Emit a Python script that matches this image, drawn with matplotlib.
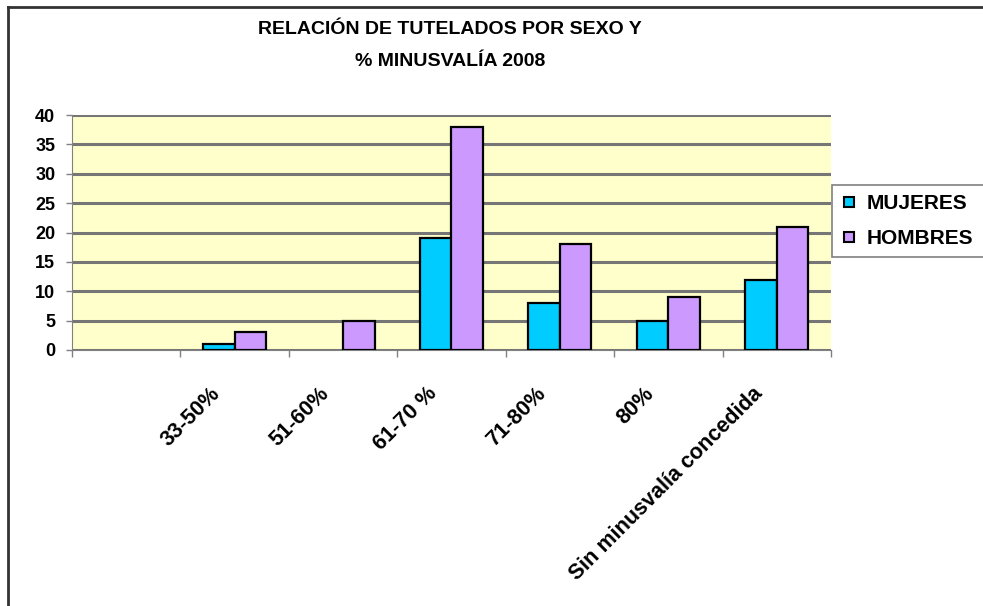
import numpy as np
import matplotlib
matplotlib.use("Agg")
import matplotlib.pyplot as plt
from matplotlib.lines import Line2D
from matplotlib.patches import Rectangle
from matplotlib.transforms import ScaledTranslation

plt.rcParams["font.family"] = ["Liberation Sans", "DejaVu Sans"]
plt.rcParams["font.weight"] = "bold"

# ── data ────────────────────────────────────────────────────────────────
categorias = ["", "33-50%", "51-60%", "61-70 %", "71-80%", "80%", "Sin minusvalía concedida"]
mujeres = [0, 1, 0, 19, 8, 5, 12]
hombres = [0, 3, 5, 38, 18, 9, 21]
series = ["MUJERES", "HOMBRES"]
C_MUJ, C_HOM = "#00CCFF", "#CC99FF"

fig = plt.figure(figsize=(9.83, 6.06), dpi=100)
ax = fig.add_axes([72/983, 1-350/606, (831-72)/983, (350-115)/606])
ax.set_facecolor("#FFFFCC")

x = np.arange(len(categorias))
w = 0.29
for vals, dx, col in ((mujeres, -w/2, C_MUJ), (hombres, w/2, C_HOM)):
    v = np.array(vals)
    nz = v > 0   # empty cells draw nothing
    ax.bar(x[nz]+dx, v[nz], w, color=col, edgecolor="black", lw=1.6, zorder=3)

ax.set_xlim(-0.5, len(categorias)-0.5)
ax.set_ylim(0, 40)
ax.set_yticks(range(0, 41, 5))
ax.yaxis.grid(True, color="#767676", lw=2.2, zorder=1)
ax.set_axisbelow(True)
for s in ["top", "right"]:
    ax.spines[s].set_visible(False)
ax.spines["left"].set_color("#808080"); ax.spines["bottom"].set_color("#808080")
ax.tick_params(axis="y", length=4, width=1, color="#808080", pad=8, labelsize=13)

# category labels at centres, tick marks at boundaries
ax.set_xticks(x)
ax.set_xticklabels(categorias, rotation=45, ha="right", va="top", rotation_mode="anchor", fontsize=15.5)
ax.tick_params(axis="x", which="major", length=0, pad=24)
ax.set_xticks(np.arange(-0.5, len(categorias)), minor=True)
ax.tick_params(axis="x", which="minor", length=5, width=1, color="#808080")
off = ScaledTranslation(-25/100, 0, fig.dpi_scale_trans)
for lbl in ax.get_xticklabels():
    lbl.set_transform(lbl.get_transform() + off)

fig.text(450/983, 1-30/606, "RELACIÓN DE TUTELADOS POR SEXO Y", ha="center", va="center", fontsize=14, fontweight="bold")
fig.text(450/983, 1-61/606, "% MINUSVALÍA 2008", ha="center", va="center", fontsize=14, fontweight="bold")

# legend (box runs off the right edge like the original)
handles = [Line2D([], [], ls="none", marker="s", ms=7.5, mfc=c, mec="black", mew=1.5) for c in (C_MUJ, C_HOM)]
leg = fig.legend(handles, series, loc="upper left", bbox_to_anchor=(832/983, 1-185/606),
                 frameon=False, fontsize=15, handlelength=0.7, handletextpad=0.5,
                 labelspacing=0.75, borderpad=0.45, borderaxespad=0)
fig.patches.append(Rectangle((832/983, 1-257/606), 200/983, 72/606, transform=fig.transFigure,
                             facecolor="white", edgecolor="#808080", lw=1.2, zorder=0))

# chart area border (left and top visible)
fig.add_artist(Line2D([8/983, 8/983], [0, 1-7/606], color="#333333", lw=2, transform=fig.transFigure))
fig.add_artist(Line2D([8/983, 1], [1-7/606, 1-7/606], color="#333333", lw=2, transform=fig.transFigure))

fig.savefig("out.png", dpi=100)
